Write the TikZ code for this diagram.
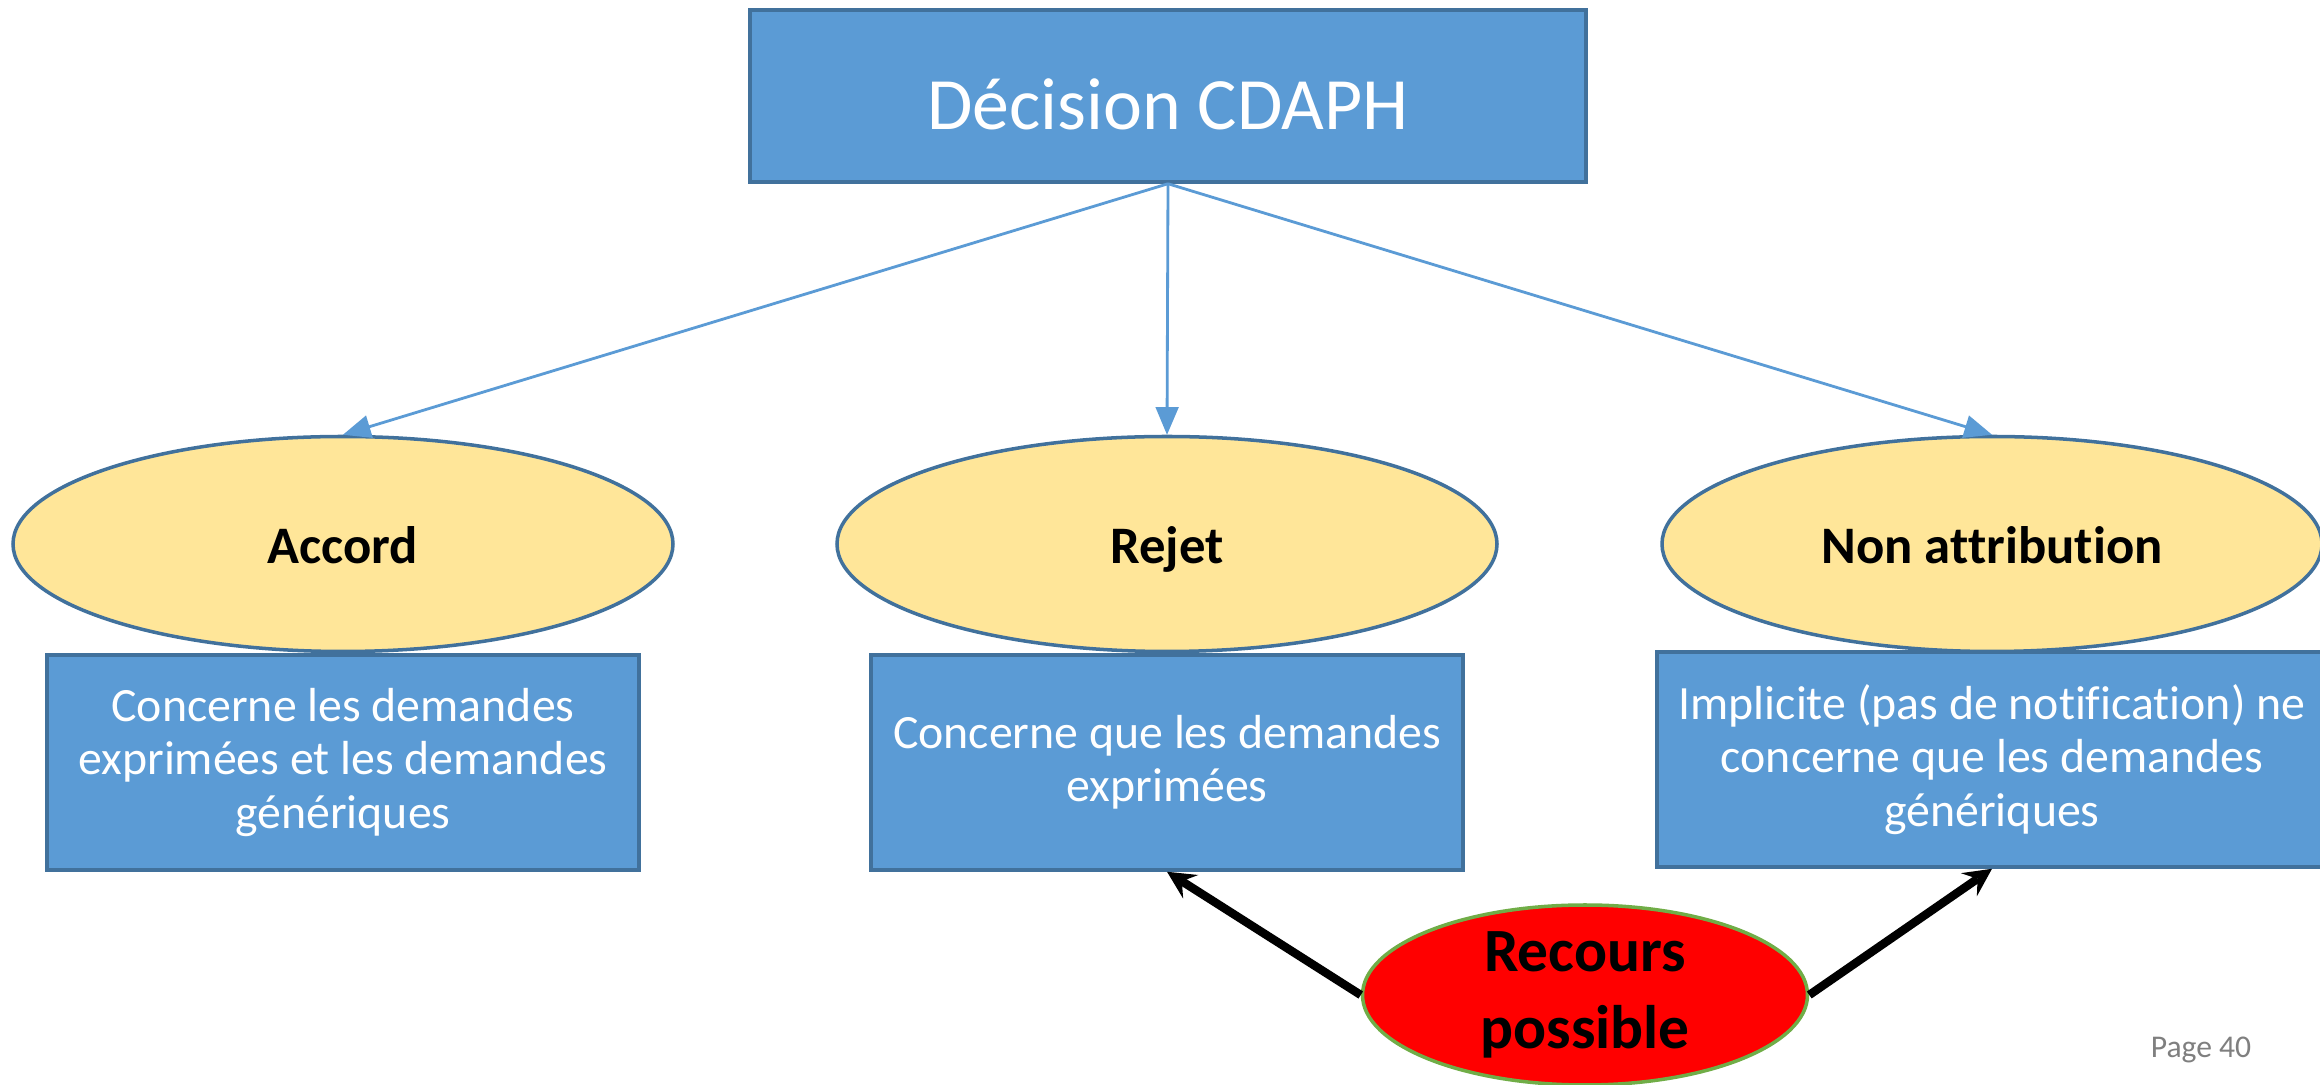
\documentclass[tikz,border=0pt]{standalone}
\usepackage{fontspec}
\setmainfont[Ligatures=NoCommon]{Carlito}
\usetikzlibrary{arrows,shapes.geometric,positioning}

\definecolor{boxblue}{HTML}{5B9BD5}
\definecolor{edgeblue}{HTML}{41719C}
\definecolor{paleyellow}{HTML}{FFE699}
\definecolor{edgegreen}{HTML}{70AD47}
\definecolor{pagegray}{HTML}{7F7F7F}

\begin{document}
\begin{tikzpicture}[>=stealth,
      bloc/.style={rectangle, draw=edgeblue, line width=1pt, fill=boxblue,
          text=white, align=center, inner sep=0pt},
      txtbox/.style={bloc, minimum width=5.92cm, minimum height=2.15cm,
          font=\fontsize{13.6}{15.2}\selectfont},
      choix/.style={ellipse, draw=edgeblue, line width=1pt, fill=paleyellow,
          minimum width=6.6cm, minimum height=2.15cm, inner sep=0pt,
          text height=11.2pt, text depth=0pt,
          font=\fontsize{15}{18}\selectfont\bfseries},
      fleche/.style={-triangle 45, draw=boxblue, line width=0.8pt},
      recoursfl/.style={->, line width=2.4pt}]
    \useasboundingbox (0,0) rectangle (23.2,10.85);

    \node[bloc, minimum width=8.36cm, minimum height=1.72cm,
          text height=19.5pt, text depth=0.2pt,
          font=\fontsize{21}{25}\selectfont] (decision) at (11.68,9.89)
    {Décision CDAPH};

    % les trois issues
    \node[choix] (accord) at (3.43,5.41) {Accord};
    \node[choix] (rejet)  at (11.67,5.41) {Rejet};
    \node[choix] (nonattr) at (19.92,5.41) {Non attribution};

    \node[txtbox, below=0pt of accord] (accordbox)
    {Concerne les demandes\\ exprimées et les demandes\\ génériques};
    \node[txtbox, below=0pt of rejet] (rejetbox)
    {Concerne que les demandes\\ exprimées};
    \node[txtbox, minimum width=6.7cm, below=-0.03cm of nonattr] (nonbox)
    {Implicite (pas de notification) ne\\ concerne que les demandes\\ génériques};

    \draw[fleche] (decision.south) -- (accord.north);
    \draw[fleche] (decision.south) -- (rejet.north);
    \draw[fleche] (decision.south) -- (nonattr.north);

    % recours
    \node[ellipse, draw=edgegreen, line width=1pt, fill=red,
          minimum width=4.45cm, minimum height=1.8cm, inner sep=0pt,
          align=center, font=\fontsize{17.5}{22}\selectfont\bfseries]
          (recours) at (15.85,0.90) {Recours\\ possible};
    \draw[recoursfl] (recours.west) -- (rejetbox.south);
    \draw[recoursfl] (recours.east) -- (nonbox.south);

    \node[text=pagegray, font=\fontsize{9}{11}\selectfont] (page)
          at (22.01,0.35) {Page 40};
  \end{tikzpicture}
\end{document}
